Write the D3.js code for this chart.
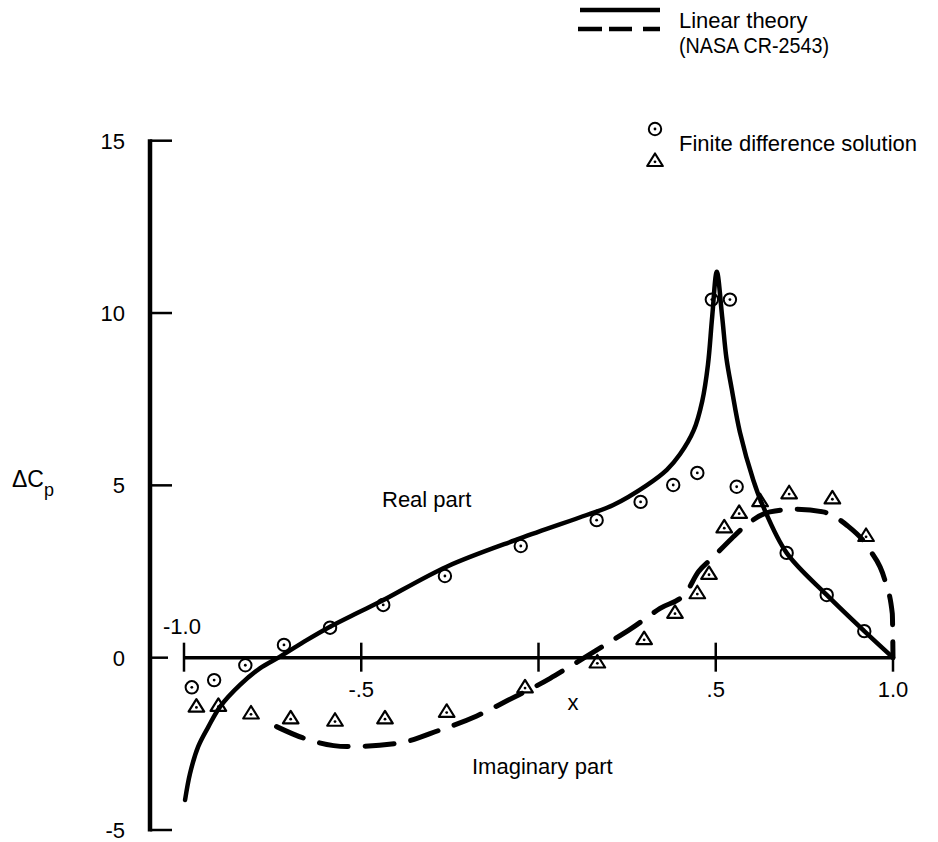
<!DOCTYPE html>
<html>
<head>
<meta charset="utf-8">
<script src="https://cdn.jsdelivr.net/npm/d3@7"></script>
<style>
  html, body { margin: 0; padding: 0; background: #fff; }
  svg { display: block; }
  text { font-family: "Liberation Sans", Arial, Helvetica, sans-serif; fill: #000; }
</style>
</head>
<body>
<svg id="chart" width="938" height="842"></svg>
<script>
// Linear theory, real part (solid curve)
const realTheoryX = [-0.997, -0.983, -0.960, -0.931, -0.898, -0.842, -0.786, -0.729, -0.654, -0.588, -0.513, -0.447,
  -0.259, -0.052, 0.136, 0.211, 0.305, 0.362, 0.399, 0.438, 0.462, 0.478, 0.490, 0.503, 0.518, 0.530, 0.545, 0.568,
  0.606, 0.634, 0.700, 0.813, 0.919, 1.0];
const realTheoryY = [-4.13, -3.36, -2.58, -2.00, -1.42, -0.79, -0.31, 0.03, 0.51, 0.90, 1.29, 1.62,
  2.64, 3.46, 4.14, 4.43, 5.00, 5.45, 5.90, 6.60, 7.45, 8.50, 9.90, 11.2, 9.90, 8.70, 7.80, 6.55,
  5.15, 4.38, 3.04, 1.82, 0.77, 0.0];

// Linear theory, imaginary part (dashed curve)
const imagTheoryX = [-0.739, -0.664, -0.541, -0.400, -0.278, -0.174, -0.085, 0.033, 0.080, 0.202, 0.258, 0.343,
  0.415, 0.451, 0.489, 0.545, 0.578, 0.653, 0.728, 0.803, 0.869, 0.935, 0.977, 0.998, 1.0];
const imagTheoryY = [-2.00, -2.33, -2.58, -2.49, -2.10, -1.69, -1.23, -0.60, -0.31, 0.46, 0.82, 1.43,
  1.87, 2.49, 2.88, 3.46, 3.78, 4.23, 4.31, 4.23, 3.85, 3.12, 2.25, 1.28, 0.0];

// Finite difference solution, real part (circles)
const realFdX = [-0.978, -0.915, -0.827, -0.718, -0.588, -0.438, -0.264, -0.050, 0.164, 0.288, 0.380, 0.448,
  0.489, 0.540, 0.559, 0.700, 0.813, 0.919];
const realFdY = [-0.86, -0.65, -0.22, 0.37, 0.87, 1.53, 2.37, 3.24, 3.99, 4.52, 5.01, 5.36,
  10.39, 10.39, 4.96, 3.04, 1.82, 0.77];

// Finite difference solution, imaginary part (triangles)
const imagFdX = [-0.965, -0.903, -0.811, -0.699, -0.574, -0.433, -0.259, -0.038, 0.166, 0.298, 0.385, 0.448,
  0.481, 0.524, 0.566, 0.625, 0.707, 0.829, 0.924];
const imagFdY = [-1.42, -1.40, -1.62, -1.76, -1.83, -1.76, -1.57, -0.86, -0.14, 0.54, 1.30, 1.87,
  2.43, 3.78, 4.20, 4.54, 4.77, 4.62, 3.53];

// Axis ticks and labels
const yTicks = [15, 10, 5, 0, -5];
const yTickLabels = ["15", "10", "5", "0", "-5"];
const xTicks = [-1.0, -0.5, 0, 0.5, 1.0];
const xTickLabels = ["-1.0", "-.5", "", ".5", "1.0"];

const svg = d3.select("#chart");
const x = d3.scaleLinear().domain([-1, 1]).range([184, 893]);
const y = d3.scaleLinear().domain([-5, 15]).range([830, 140.7]);
const axisX = 150;

const zip = (xs, ys) => xs.map((v, i) => [v, ys[i]]);

// ---- vertical axis ----
svg.append("line")
  .attr("x1", axisX).attr("x2", axisX)
  .attr("y1", y(15) - 1.5).attr("y2", y(-5) + 1.5)
  .attr("stroke", "#000").attr("stroke-width", 4.5);

svg.selectAll(".ytick").data(yTicks).enter().append("line")
  .attr("x1", axisX).attr("x2", d => d === 0 ? 168 : 172)
  .attr("y1", d => y(d)).attr("y2", d => y(d))
  .attr("stroke", "#000").attr("stroke-width", 2.5);

svg.selectAll(".ylab").data(yTicks).enter().append("text")
  .attr("x", 125).attr("y", d => y(d))
  .attr("dy", "0.36em")
  .attr("text-anchor", "end")
  .attr("font-size", 22)
  .text((d, i) => yTickLabels[i]);

// axis title: ΔC with subscript p
const yTitle = svg.append("text").attr("x", 12).attr("y", 487).attr("font-size", 23);
yTitle.append("tspan").text("ΔC");
yTitle.append("tspan").attr("dy", 9).attr("font-size", 18).text("p");

// ---- horizontal axis ----
svg.append("line")
  .attr("x1", x(-1)).attr("x2", x(1))
  .attr("y1", y(0)).attr("y2", y(0))
  .attr("stroke", "#000").attr("stroke-width", 3.5);

svg.selectAll(".xtick").data(xTicks).enter().append("line")
  .attr("x1", d => x(d)).attr("x2", d => x(d))
  .attr("y1", y(0) - 15).attr("y2", y(0) + 14)
  .attr("stroke", "#000").attr("stroke-width", 2.5);

svg.selectAll(".xlab").data(xTicks).enter().append("text")
  .attr("x", d => d === -1 ? x(d) - 2 : x(d))
  .attr("y", d => d === -1 ? 634 : 697)
  .attr("text-anchor", "middle")
  .attr("font-size", 22)
  .text((d, i) => xTickLabels[i]);

svg.append("text").attr("x", 573).attr("y", 710)
  .attr("text-anchor", "middle").attr("font-size", 22).text("x");

// ---- curve labels ----
svg.append("text").attr("x", 382).attr("y", 507).attr("font-size", 22).text("Real part");
svg.append("text").attr("x", 472).attr("y", 774).attr("font-size", 22).text("Imaginary part");

// ---- theory curves ----
const realLine = d3.line()
  .x(d => x(d[0])).y(d => y(d[1]))
  .curve(d3.curveCatmullRom.alpha(0.5));

const imagLine = d3.line()
  .x(d => x(d[0])).y(d => y(d[1]))
  .curve(d3.curveMonotoneX);

svg.append("path")
  .attr("d", realLine(zip(realTheoryX, realTheoryY)))
  .attr("fill", "none").attr("stroke", "#000")
  .attr("stroke-width", 4.5)
  .attr("stroke-linecap", "round").attr("stroke-linejoin", "round");

svg.append("path")
  .attr("d", imagLine(zip(imagTheoryX, imagTheoryY)))
  .attr("fill", "none").attr("stroke", "#000")
  .attr("stroke-width", 5)
  .attr("stroke-dasharray", "29,17")
  .attr("stroke-linecap", "round");

// ---- finite difference symbols ----
function circleMark(g) {
  g.append("circle").attr("r", 6.2).attr("fill", "none")
    .attr("stroke", "#000").attr("stroke-width", 2);
  g.append("circle").attr("r", 1.4).attr("fill", "#000");
}
function triangleMark(g) {
  g.append("path").attr("d", "M0,-7.5 L7.8,5 L-7.8,5 Z")
    .attr("fill", "none").attr("stroke", "#000")
    .attr("stroke-width", 2.2).attr("stroke-linejoin", "round");
  g.append("circle").attr("cy", 0.8).attr("r", 1.4).attr("fill", "#000");
}

svg.selectAll(".fd-real").data(zip(realFdX, realFdY)).enter().append("g")
  .attr("transform", d => `translate(${x(d[0])},${y(d[1])})`)
  .each(function () { circleMark(d3.select(this)); });

svg.selectAll(".fd-imag").data(zip(imagFdX, imagFdY)).enter().append("g")
  .attr("transform", d => `translate(${x(d[0])},${y(d[1])})`)
  .each(function () { triangleMark(d3.select(this)); });

// ---- legend ----
const legend = svg.append("g");
legend.append("line").attr("x1", 580).attr("x2", 660).attr("y1", 10).attr("y2", 10)
  .attr("stroke", "#000").attr("stroke-width", 4.5);
legend.append("line").attr("x1", 578).attr("x2", 660).attr("y1", 29).attr("y2", 29)
  .attr("stroke", "#000").attr("stroke-width", 4.5)
  .attr("stroke-dasharray", "24,7,23,11,18");
legend.append("text").attr("x", 679).attr("y", 28).attr("font-size", 22).text("Linear theory");
legend.append("text").attr("x", 679).attr("y", 53).attr("font-size", 22)
  .attr("textLength", 150).attr("lengthAdjust", "spacingAndGlyphs").text("(NASA CR-2543)");

circleMark(legend.append("g").attr("transform", "translate(655,129)"));
triangleMark(legend.append("g").attr("transform", "translate(655,161)"));
legend.append("text").attr("x", 679).attr("y", 151).attr("font-size", 22).text("Finite difference solution");
</script>
</body>
</html>
